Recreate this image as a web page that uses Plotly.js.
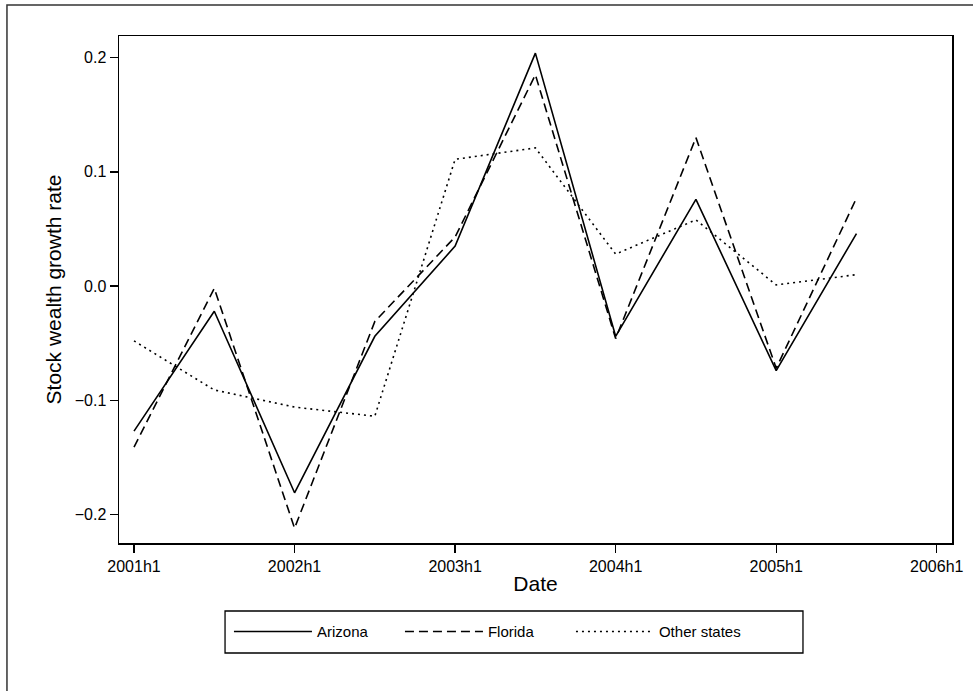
<!DOCTYPE html>
<html>
<head>
<meta charset="utf-8">
<script src="https://cdn.plot.ly/plotly-3.0.1.min.js"></script>
<style>html,body{margin:0;padding:0;background:#fff;}#chart{width:973px;height:691px;}</style>
</head>
<body>
<div id="chart"></div>
<script>
// Half-year periods, 0 = 2001h1
const periods = [0, 1, 2, 3, 4, 5, 6, 7, 8, 9];
const arizona = [-0.127, -0.022, -0.181, -0.044, 0.035, 0.204, -0.044, 0.076, -0.074, 0.046];
const florida = [-0.141, -0.002, -0.212, -0.031, 0.043, 0.185, -0.046, 0.130, -0.072, 0.077];
const otherStates = [-0.048, -0.091, -0.106, -0.114, 0.111, 0.121, 0.028, 0.058, 0.001, 0.010];
const seriesNames = ['Arizona', 'Florida', 'Other states'];
const xTickVals = [0, 2, 4, 6, 8, 10];
const xTickText = ['2001h1', '2002h1', '2003h1', '2004h1', '2005h1', '2006h1'];
const yTickVals = [-0.2, -0.1, 0.0, 0.1, 0.2];

const FONT = 'Liberation Sans, Arial, sans-serif';
const traces = [
  {x: periods, y: arizona, name: seriesNames[0], type: 'scatter', mode: 'lines',
   line: {color: '#000', width: 1.6, dash: 'solid'}},
  {x: periods, y: florida, name: seriesNames[1], type: 'scatter', mode: 'lines',
   line: {color: '#000', width: 1.6, dash: '9px,5px'}},
  {x: periods, y: otherStates, name: seriesNames[2], type: 'scatter', mode: 'lines',
   line: {color: '#000', width: 1.6, dash: '2px,4px'}}
];

const layout = {
  width: 973, height: 691,
  margin: {l: 119, r: 21, t: 36, b: 148},
  paper_bgcolor: '#fff', plot_bgcolor: '#fff',
  font: {family: FONT, color: '#000', size: 16},
  xaxis: {
    range: [-0.187, 10.19], tickvals: xTickVals, ticktext: xTickText,
    showgrid: false, zeroline: false, showline: true, linecolor: '#000', linewidth: 1.5,
    mirror: true, ticks: 'outside', ticklen: 8, tickcolor: '#000', tickwidth: 1.3,
    tickfont: {size: 16, family: FONT, color: '#000'},
    title: {text: 'Date', font: {size: 21, family: FONT, color: '#000'}, standoff: 2}
  },
  yaxis: {
    range: [-0.225, 0.219], tickvals: yTickVals, tickformat: '.1f',
    showgrid: false, zeroline: false, showline: true, linecolor: '#000', linewidth: 1.5,
    mirror: true, ticks: 'outside', ticklen: 8, tickcolor: '#000', tickwidth: 1.3,
    tickfont: {size: 16, family: FONT, color: '#000'},
    title: {text: 'Stock wealth growth rate', font: {size: 21, family: FONT, color: '#000'}, standoff: 7}
  },
  showlegend: true,
  legend: {
    orientation: 'h', x: 0.132, xanchor: 'left', y: -0.1425, yanchor: 'top',
    borderwidth: 0, bgcolor: 'rgba(0,0,0,0)',
    font: {size: 15, family: FONT, color: '#000'},
    itemwidth: 78, entrywidth: 78, traceorder: 'normal'
  },
  shapes: [
    {type: 'rect', xref: 'paper', yref: 'paper', x0: -0.1345, x1: 1.2, y0: -0.5, y1: 1.061,
     line: {color: '#333', width: 1.5}, fillcolor: 'rgba(0,0,0,0)', layer: 'below'},
    {type: 'rect', xref: 'paper', yref: 'paper', x0: 0.1273, x1: 0.8211, y0: -0.217, y1: -0.1341,
     line: {color: '#000', width: 1.3}, fillcolor: 'rgba(0,0,0,0)', layer: 'below'}
  ]
};

Plotly.newPlot('chart', traces, layout, {displayModeBar: false, staticPlot: true});
</script>
</body>
</html>
